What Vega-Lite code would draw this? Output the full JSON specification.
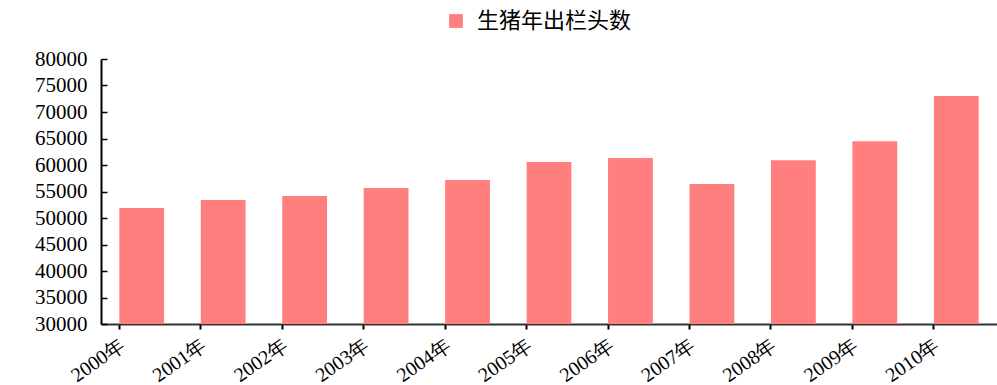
{
  "$schema": "https://vega.github.io/schema/vega-lite/v6.json",
  "autosize": {"type": "none"},
  "padding": {"left": 101, "top": 59, "right": 0, "bottom": 61},
  "width": 896,
  "height": 265,
  "background": "white",
  "data": {
    "values": [
      {"year": "2000年", "hogs": 51900},
      {"year": "2001年", "hogs": 53400},
      {"year": "2002年", "hogs": 54150},
      {"year": "2003年", "hogs": 55660},
      {"year": "2004年", "hogs": 57170},
      {"year": "2005年", "hogs": 60570},
      {"year": "2006年", "hogs": 61300},
      {"year": "2007年", "hogs": 56400},
      {"year": "2008年", "hogs": 60900},
      {"year": "2009年", "hogs": 64500},
      {"year": "2010年", "hogs": 73000}
    ]
  },
  "config": {
    "view": {"stroke": null},
    "font": "Liberation Serif"
  },
  "mark": {"type": "bar", "clip": true},
  "encoding": {
    "x": {
      "field": "year",
      "type": "nominal",
      "sort": null,
      "scale": {"paddingInner": 0.45, "paddingOuter": 0.225},
      "axis": {
        "title": null,
        "bandPosition": 0,
        "domainColor": "#333",
        "domainWidth": 2,
        "tickColor": "#000",
        "tickWidth": 2,
        "tickSize": 5,
        "labelAngle": -35,
        "labelAlign": "right",
        "labelBaseline": "middle",
        "labelOffset": -19,
        "labelPadding": 14,
        "labelFont": "Liberation Serif",
        "labelFontSize": 20,
        "labelColor": "#000",
        "grid": false
      }
    },
    "y": {
      "field": "hogs",
      "type": "quantitative",
      "scale": {"domain": [30000, 80000], "zero": false, "nice": false},
      "axis": {
        "title": null,
        "values": [30000, 35000, 40000, 45000, 50000, 55000, 60000, 65000, 70000, 75000, 80000],
        "format": "d",
        "grid": false,
        "domainColor": "#000",
        "domainWidth": 2,
        "tickColor": "#000",
        "tickWidth": 1.5,
        "tickSize": -6,
        "labelPadding": 20,
        "labelFont": "Liberation Serif",
        "labelFontSize": 21,
        "labelColor": "#000"
      }
    },
    "color": {
      "datum": "生猪年出栏头数",
      "type": "nominal",
      "scale": {"range": ["#FF7F7F"]},
      "legend": {
        "title": null,
        "orient": "none",
        "legendX": 344,
        "legendY": -49,
        "symbolType": "square",
        "symbolSize": 190,
        "symbolStrokeWidth": 0,
        "labelFont": "Noto Sans CJK SC",
        "labelFontSize": 22,
        "labelColor": "#000",
        "labelOffset": 10
      }
    }
  }
}
